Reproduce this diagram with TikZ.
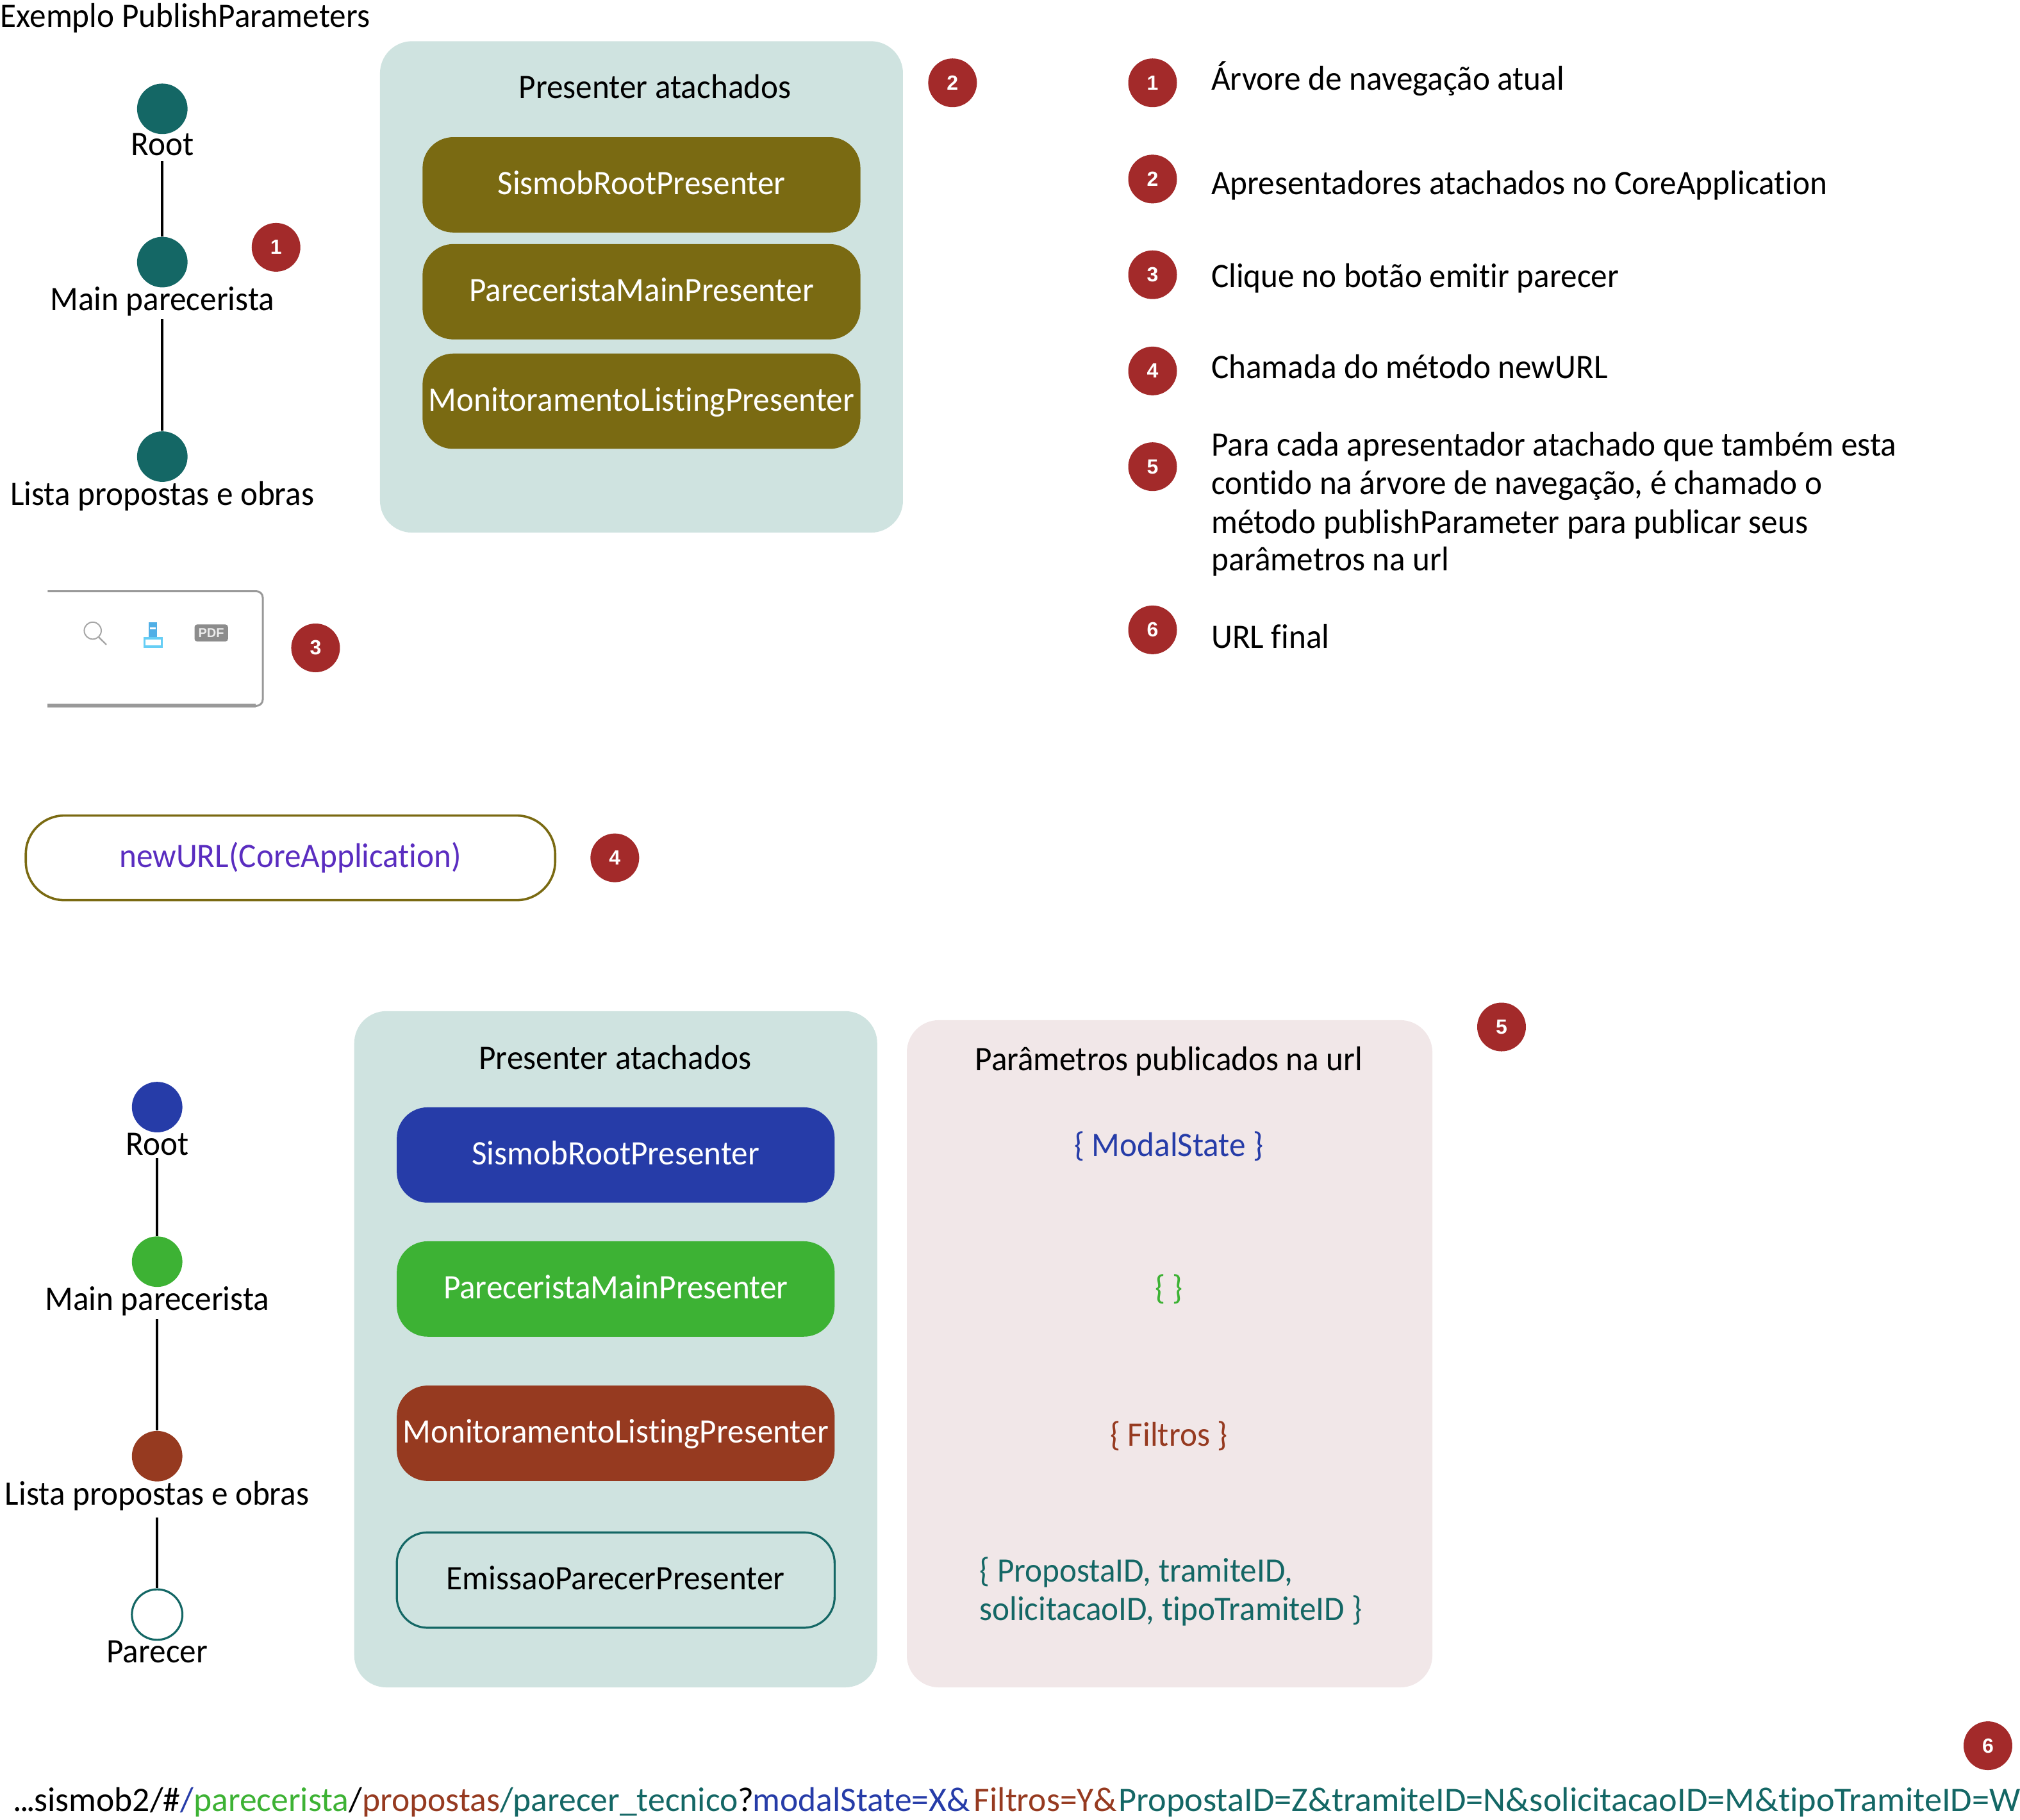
\documentclass[tikz,border=0pt]{standalone}
\usepackage{fontspec}
\setmainfont{Carlito}[FakeStretch=0.955,Ligatures=NoCommon]
\newfontfamily\urlfont{Carlito}[Ligatures=NoCommon]
\newfontfamily\urlwide{Carlito}[Ligatures=NoCommon,FakeStretch=1.013]
\newfontfamily\badgefont{Liberation Sans}[Scale=1]
\definecolor{teal1}{HTML}{146765}
\definecolor{panelg}{HTML}{CFE3E0}
\definecolor{panelp}{HTML}{F1E7E8}
\definecolor{olive1}{HTML}{7A6A12}
\definecolor{red1}{HTML}{A32A2A}
\definecolor{blue1}{HTML}{263CA8}
\definecolor{green1}{HTML}{3DB234}
\definecolor{brown1}{HTML}{963A20}
\definecolor{purp1}{HTML}{5A2DC0}
\definecolor{gray1}{HTML}{999999}
\newcommand{\fs}{\fontsize{13.4}{15}\selectfont}
\tikzset{
 x=0.5025pt,y=-0.5025pt,
 txt/.style={font=\fs,inner sep=0pt,text depth=0pt},
 lbl/.style={txt,anchor=center},
 ltxt/.style={txt,anchor=base west},
 dot/.style={circle,inner sep=0pt,minimum size=19.7pt,fill=#1},
 badge/.style={circle,inner sep=0pt,minimum size=19pt,fill=red1,text=white,font=\badgefont\bfseries\fontsize{8}{9}\selectfont},
 link/.style={line width=1pt,black},
 panel/.style={fill=#1,rounded corners=12.5pt,draw=none},
 pill/.style={rectangle,rounded corners=12pt,minimum width=170.8pt,minimum height=37.2pt,inner sep=0pt,font=\fs,text height=9.5pt,text depth=2pt},
}
\begin{document}
\begin{tikzpicture}
\useasboundingbox (0,0) rectangle (1568.2,1412.9);
\node[ltxt] (title) at (0,21) {Exemplo PublishParameters};
% tree 1
\node[dot=teal1] (a1) at (126,84.5) {};
\node[dot=teal1] (a2) at (126,203.5) {};
\node[dot=teal1] (a3) at (126,354.5) {};
\node[lbl] (a1l) at (126,112) {Root};
\node[lbl] (a2l) at (126,232) {Main parecerista};
\node[lbl] (a3l) at (126,383) {Lista propostas e obras};
\draw[link] (126,125) coordinate (a1s) -- (a2);
\draw[link] (126,248) coordinate (a2s) -- (a3);
\node[badge] (b1) at (214.3,192) {1};
% panel 1
\path[panel=panelg] (295,32) rectangle (701,413.5);
\node[lbl] (p1t) at (508.5,67) {Presenter atachados};
\node[pill,fill=olive1,text=white] (p11) at (498,143.5) {SismobRootPresenter};
\node[pill,fill=olive1,text=white] (p12) at (498,226.5) {PareceristaMainPresenter};
\node[pill,fill=olive1,text=white] (p13) at (498,311.5) {MonitoramentoListingPresenter};
\node[badge] (b2) at (739.5,64.3) {2};
% legend
\node[badge] (l1) at (894.8,64.3) {1};
\node[badge] (l2) at (894.8,139) {2};
\node[badge] (l3) at (894.8,213.3) {3};
\node[badge] (l4) at (894.8,288) {4};
\node[badge] (l5) at (894.8,362.3) {5};
\node[badge] (l6) at (894.8,489) {6};
\node[ltxt] (t1) at (940,70) {Árvore de navegação atual};
\node[ltxt] (t2) at (940,151) {Apresentadores atachados no CoreApplication};
\node[ltxt] (t3) at (940,223) {Clique no botão emitir parecer};
\node[ltxt] (t4) at (940,294) {Chamada do método newURL};
\node[ltxt] (t5a) at (940,354) {Para cada apresentador atachado que também esta};
\node[ltxt] (t5b) at (940,384) {contido na árvore de navegação, é chamado o};
\node[ltxt] (t5c) at (940,414) {método publishParameter para publicar seus};
\node[ltxt] (t5d) at (940,443) {parâmetros na url};
\node[ltxt] (t6) at (940,503) {URL final};
% toolbar
\draw[gray1,line width=0.75pt,rounded corners=2.5pt] (37,459) -- (204,459) -- (204,548) -- (196,548);
\draw[gray1,line width=1.5pt] (37,548) -- (198.5,548);
\draw[gray!70!white,line width=0.5pt] (72,489.6) circle (6.6);
\draw[gray!70!white,line width=0.6pt] (76.5,494.5) -- (82.6,500.5);
\fill[cyan!80!blue!70!white] (115.5,483) rectangle (122,496);
\fill[white] (116.5,487) rectangle (121,488.5);
\draw[cyan!60!white,line width=0.8pt] (112,495.5) rectangle (125.5,502);
\fill[gray!90!white,rounded corners=1pt] (151,484.8) rectangle (177,498);
\node[text=white!85!gray,font=\badgefont\bfseries\fontsize{5}{6}\selectfont,inner sep=0pt] (pdf) at (164,491.4) {PDF};
\node[badge] (b3) at (245,503) {3};
% newURL
\node[rectangle,rounded corners=15pt,draw=olive1,line width=0.9pt,minimum width=206.5pt,minimum height=33pt,inner sep=0pt,text=purp1,font=\fs] (nu) at (225.5,666) {newURL(CoreApplication)};
\node[badge] (b4) at (477.3,666) {4};
% tree 2
\node[dot=blue1] (c1) at (122,859.5) {};
\node[dot=green1] (c2) at (122,979.5) {};
\node[dot=brown1] (c3) at (122,1130.5) {};
\node[circle,inner sep=0pt,minimum size=19.7pt,draw=teal1,line width=0.8pt,fill=white] (c4) at (122,1253.5) {};
\draw[link] (122,899) coordinate (c1s) -- (c2);
\draw[link] (122,1024) coordinate (c2s) -- (c3);
\draw[link] (122,1178) coordinate (c3s) -- (c4);
\node[lbl] (c1l) at (122,888) {Root};
\node[lbl] (c2l) at (122,1008) {Main parecerista};
\node[lbl] (c3l) at (122,1159) {Lista propostas e obras};
\node[lbl] (c4l) at (122,1282.5) {Parecer};
% panel 2
\path[panel=panelg] (275,785) rectangle (681,1310);
\node[lbl] (p2t) at (477.5,821) {Presenter atachados};
\node[pill,fill=blue1,text=white] (p21) at (478,896.7) {SismobRootPresenter};
\node[pill,fill=green1,text=white] (p22) at (478,1000.7) {PareceristaMainPresenter};
\node[pill,fill=brown1,text=white] (p23) at (478,1112.7) {MonitoramentoListingPresenter};
\node[pill,draw=teal1,line width=0.8pt,text=black] (p24) at (478,1226.7) {EmissaoParecerPresenter};
% panel 3
\path[panel=panelp] (704,792) rectangle (1112,1310);
\node[lbl] (p3t) at (907.5,822) {Parâmetros publicados na url};
\node[lbl,text=blue1] (q1) at (907.5,888) {\{ ModalState \}};
\node[lbl,text=green1] (q2) at (907.5,999) {\{ \}};
\node[lbl,text=brown1] (q3) at (907.5,1113) {\{ Filtros \}};
\node[ltxt,text=teal1] (q4) at (760,1228) {\{ PropostaID, tramiteID,};
\node[ltxt,text=teal1] (q5) at (760,1258) {solicitacaoID, tipoTramiteID \}};
\node[badge] (b5) at (1165.7,797.3) {5};
\node[badge] (b6) at (1543.3,1355.3) {6};
% url
\node[txt,anchor=base west] (url) at (10,1406) {\urlfont .\kern-0.8pt.\kern-0.8pt.\kern-0.4ptsismob2/\#\textcolor{blue1}{/}\textcolor{green1}{parecerista}/\textcolor{brown1}{propostas}\textcolor{teal1}{/parecer\_tecnico}?\kern-0.5pt\textcolor{blue1}{modalState=X\&}\kern1.5pt\textcolor{brown1}{Filtros=Y\&}\kern0.5pt\textcolor{teal1}{\urlwide PropostaID=Z\&tramiteID=N\&solicitacaoID=M\&tipoTramiteID=W}};
\end{tikzpicture}
\end{document}
